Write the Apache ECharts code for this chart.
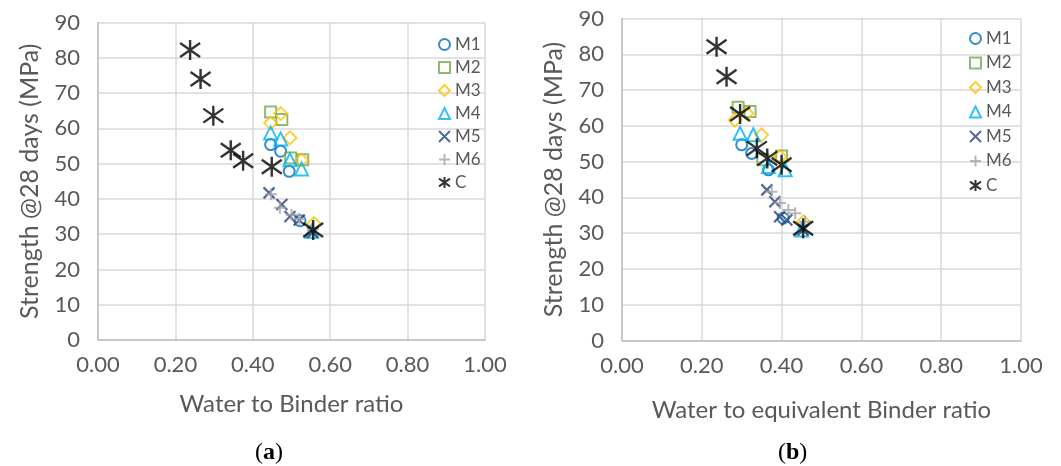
<!DOCTYPE html>
<html>
<head>
<meta charset="utf-8">
<script src="https://cdn.jsdelivr.net/npm/echarts@6/dist/echarts.min.js"></script>
<style>
html,body{margin:0;padding:0;background:#fff;}
#chart{width:1061px;height:466px;}
</style>
</head>
<body>
<div id="chart"></div>
<script>
// ---- Data (a): Water to Binder ratio vs strength ----
const seriesNames = ['M1','M2','M3','M4','M5','M6','C'];

const aM1x = [0.446,0.472,0.494,0.522];
const aM1y = [55.4,53.5,47.8,33.8];
const aM2x = [0.446,0.475,0.498,0.529];
const aM2y = [64.6,62.5,51.6,51.1];
const aM3x = [0.446,0.472,0.496,0.526,0.558];
const aM3y = [61.5,64.2,57.3,51.0,33.0];
const aM4x = [0.446,0.472,0.496,0.526,0.552];
const aM4y = [58.7,57.0,51.1,48.5,30.8];
const aM5x = [0.442,0.475,0.496,0.520,0.555];
const aM5y = [41.7,38.4,35.0,34.0,30.5];
const aM6x = [0.447,0.470,0.500,0.520,0.555];
const aM6y = [41.3,37.5,35.5,34.3,31.5];
const aCx  = [0.238,0.265,0.298,0.343,0.375,0.449,0.556];
const aCy  = [82.2,74.0,63.6,53.8,50.8,49.1,31.2];

// ---- Data (b): Water to equivalent Binder ratio vs strength ----
const bM1x = [0.300,0.325,0.367,0.404];
const bM1y = [54.7,52.3,47.7,34.2];
const bM2x = [0.291,0.321,0.353,0.400];
const bM2y = [65.2,64.0,50.5,51.6];
const bM3x = [0.283,0.313,0.350,0.396,0.455];
const bM3y = [61.6,63.5,57.5,51.4,33.2];
const bM4x = [0.296,0.329,0.367,0.409,0.450];
const bM4y = [57.9,57.5,48.6,47.7,30.9];
const bM5x = [0.363,0.383,0.395,0.413,0.454];
const bM5y = [42.1,38.8,34.6,33.7,30.9];
const bM6x = [0.375,0.396,0.417,0.434,0.459];
const bM6y = [41.6,38.4,36.5,35.6,33.2];
const bCx  = [0.237,0.262,0.296,0.338,0.364,0.400,0.454];
const bCy  = [82.1,73.7,63.3,53.7,50.9,49.1,31.4];

const xTickValues = [0,0.2,0.4,0.6,0.8,1.0];
const yTickValues = [0,10,20,30,40,50,60,70,80,90];

// ---- Styles ----
const styles = {
  M1: {symbol:'circle', size:11, color:'#0070C0', w:2},
  M2: {symbol:'rect', size:11, color:'#70AD47', w:2},
  M3: {symbol:'diamond', size:13, color:'#FFC000', w:1.8},
  M4: {symbol:'triangle', size:13, color:'#00B0F0', w:2},
  M5: {symbol:'path://M0,0L10,10M10,0L0,10', size:11, color:'#264478', w:2.2},
  M6: {symbol:'path://M5,0L5,10M0,5L10,5', size:12, color:'#A5A5A5', w:2},
  C:  {symbol:'path://M5,0L5,10M0,1.5L10,8.5M10,1.5L0,8.5', size:20, color:'#000000', w:2.4}
};

const pairs = (xs, ys) => xs.map((x,i)=>[x, ys[i]]);
const dataA = {M1:pairs(aM1x,aM1y),M2:pairs(aM2x,aM2y),M3:pairs(aM3x,aM3y),M4:pairs(aM4x,aM4y),M5:pairs(aM5x,aM5y),M6:pairs(aM6x,aM6y),C:pairs(aCx,aCy)};
const dataB = {M1:pairs(bM1x,bM1y),M2:pairs(bM2x,bM2y),M3:pairs(bM3x,bM3y),M4:pairs(bM4x,bM4y),M5:pairs(bM5x,bM5y),M6:pairs(bM6x,bM6y),C:pairs(bCx,bCy)};

const FONT = 'Lato';
const GREY = '#595959';
const GRID_LINE = '#D9D9D9';

function makeSeries(data, idx, suffix) {
  return seriesNames.map(n => {
    const s = styles[n];
    return {
      type:'scatter', name:n, id:n+suffix,
      xAxisIndex:idx, yAxisIndex:idx,
      symbol:s.symbol, symbolSize:s.size,
      itemStyle:{color:'rgba(0,0,0,0)', borderColor:s.color, borderWidth:s.w},
      data:data[n], z: n==='C'?5:3
    };
  });
}

function xAxis(idx, name, gap) {
  return {
    type:'value', gridIndex:idx, min:0, max:1, interval:0.2,
    name:name, nameLocation:'middle', nameGap:gap,
    nameTextStyle:{fontFamily:FONT, fontSize:24, color:GREY},
    axisLine:{show:true, lineStyle:{color:'#BFBFBF', width:1.5}},
    axisTick:{show:false},
    splitLine:{show:true, lineStyle:{color:GRID_LINE, width:1.5}},
    axisLabel:{fontFamily:FONT, fontSize:22, color:GREY, margin:14,
      formatter:v=>v.toFixed(2)}
  };
}
function yAxis(idx) {
  return {
    type:'value', gridIndex:idx, min:0, max:90, interval:10,
    name:'Strength @28 days (MPa)', nameLocation:'middle', nameGap:56,
    nameTextStyle:{fontFamily:FONT, fontSize:25, color:GREY},
    axisLine:{show:true, lineStyle:{color:'#BFBFBF', width:1.5}},
    axisTick:{show:false},
    splitLine:{show:true, lineStyle:{color:GRID_LINE, width:1.5}},
    axisLabel:{fontFamily:FONT, fontSize:22, color:GREY, margin:18}
  };
}

const chart = echarts.init(document.getElementById('chart'), null, {renderer:'canvas'});
const seriesA = makeSeries(dataA, 0, 'a');
const seriesB = makeSeries(dataB, 1, 'b');

const capRich = {
  p:{fontFamily:'Liberation Serif', fontSize:24, fontWeight:'normal', color:'#000'},
  b:{fontFamily:'Liberation Serif', fontSize:24, fontWeight:'bold', color:'#000'}
};

chart.setOption({
  backgroundColor:'#ffffff',
  animation:false,
  title:[
    {text:'{p|(}{b|a}{p|)}', left:250, top:436, textStyle:{fontWeight:'normal', rich:capRich}},
    {text:'{p|(}{b|b}{p|)}', left:773, top:436, textStyle:{fontWeight:'normal', rich:capRich}}
  ],
  grid:[
    {left:98, top:22.5, width:387, height:317.5},
    {left:622, top:18.5, width:399, height:322}
  ],
  xAxis:[xAxis(0,'Water to Binder ratio',52), xAxis(1,'Water to equivalent Binder ratio',58)],
  yAxis:[yAxis(0), yAxis(1)],
  legend:[
    {orient:'vertical', left:433, top:31, itemGap:6, itemWidth:11, itemHeight:11,
     data:seriesNames, textStyle:{fontFamily:FONT, fontSize:17, color:GREY}},
    {orient:'vertical', left:964, top:25, itemGap:7.5, itemWidth:11, itemHeight:11,
     data:seriesNames, textStyle:{fontFamily:FONT, fontSize:17, color:GREY}}
  ],
  series: seriesA.concat(seriesB)
});
</script>
</body>
</html>
